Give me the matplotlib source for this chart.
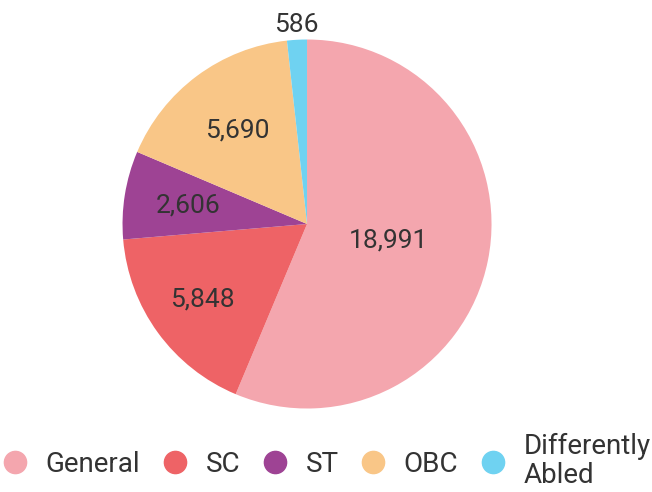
import matplotlib
matplotlib.use("Agg")
from matplotlib import pyplot as plt
from matplotlib.lines import Line2D
import numpy as np

# category counts
categories = ["General", "SC", "ST", "OBC", "Differently\nAbled"]
counts = [18991, 5848, 2606, 5690, 586]
value_labels = ["18,991", "5,848", "2,606", "5,690", "586"]
colors = ["#F4A6AE", "#EE6366", "#9E4394", "#F9C687", "#6FD2F1"]

# how far out each value label sits (fraction of radius)
label_radius = [0.45, 0.70, 0.65, 0.63, 1.08]

TEXT_COLOR = "#333333"
plt.rcParams["font.family"] = ["Roboto", "DejaVu Sans"]

fig = plt.figure(figsize=(6.52, 4.92), dpi=100)
ax = fig.add_axes([0.1879, 0.1697, 0.566, 0.75])

wedges, _ = ax.pie(counts, colors=colors, startangle=90, counterclock=False,
                   radius=1.0, wedgeprops={"linewidth": 0})

for w, txt, r in zip(wedges, value_labels, label_radius):
    mid = np.deg2rad((w.theta1 + w.theta2) / 2)
    ax.text(r * np.cos(mid), r * np.sin(mid), txt, ha="center", va="center",
            fontsize=19, color=TEXT_COLOR)

ax.set_xlim(-1, 1)
ax.set_ylim(-1, 1)
ax.set_aspect("equal")
ax.axis("off")

handles = [Line2D([], [], marker="o", linestyle="none", markersize=16,
                  markerfacecolor=c, markeredgecolor=c) for c in colors]
leg = fig.legend(handles, categories, loc="center", ncol=5,
                 bbox_to_anchor=(0.5, 0.063), frameon=False,
                 handletextpad=0.6, columnspacing=0.75, handlelength=1.0,
                 fontsize=20, labelspacing=0.2)
for t in leg.get_texts():
    t.set_color(TEXT_COLOR)
    t.set_linespacing(1.1)

fig.savefig("out.png", dpi=100)
